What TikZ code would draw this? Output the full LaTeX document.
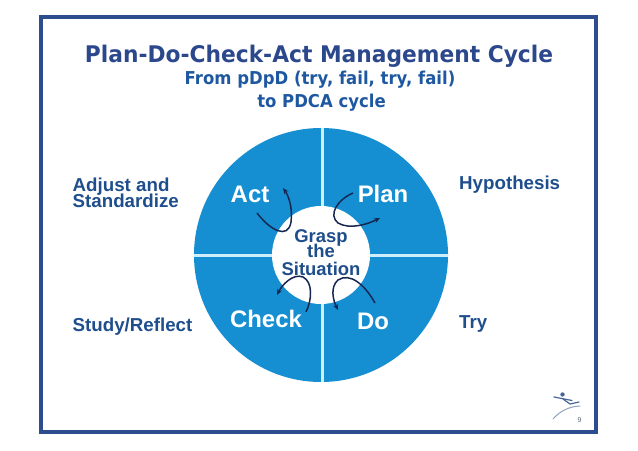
\documentclass[tikz,border=0pt]{standalone}
\usepackage{fontspec}
\setmainfont{Liberation Sans}
\newfontfamily\titlefont[FakeStretch=0.95]{DejaVu Sans}
\newfontfamily\subfont[FakeStretch=0.93]{DejaVu Sans}
\usetikzlibrary{arrows.meta}
\definecolor{framec}{RGB}{46,77,142}
\definecolor{titlec}{RGB}{44,72,140}
\definecolor{subc}{RGB}{30,88,160}
\definecolor{labc}{RGB}{31,78,140}
\definecolor{wheel}{RGB}{21,143,209}
\definecolor{divc}{RGB}{205,238,250}
\definecolor{arrc}{RGB}{22,40,82}
\definecolor{logoc}{RGB}{70,100,150}
\definecolor{pagec}{RGB}{90,100,120}
\tikzset{
  titletext/.style={inner sep=0pt,anchor=base,text=titlec,font=\titlefont\bfseries\fontsize{23}{25}\selectfont},
  subtext/.style={inner sep=0pt,anchor=base,text=subc,font=\subfont\bfseries\fontsize{17.8}{20}\selectfont},
  sidetext/.style={inner sep=0pt,anchor=base west,text=labc,font=\bfseries\fontsize{18.8}{20}\selectfont},
  quadtext/.style={inner sep=0pt,anchor=base,text=white,font=\bfseries\fontsize{24}{26}\selectfont},
  coretext/.style={inner sep=0pt,anchor=base,text=labc,font=\bfseries\fontsize{18.5}{20}\selectfont},
  cyclearrow/.style={draw=arrc,line width=1.5bp,-{Stealth[length=6bp,width=5bp]}},
}
\begin{document}
\begin{tikzpicture}[x=1bp,y=-1bp]
\useasboundingbox (0,0) rectangle (638,451);
% frame
\draw[framec,line width=4.5bp] (41,17) rectangle (596,432);
% titles
\node[titletext] (title) at (319,63) {Plan-Do-Check-Act Management Cycle};
\node[subtext] (sub1) at (320,85) {From pDpD (try, fail, try, fail)};
\node[subtext] (sub2) at (321.5,108) {to PDCA cycle};
% wheel
\fill[wheel] (321,255) circle[radius=127bp];
\begin{scope}
\clip (321,255) circle[radius=127bp];
\draw[divc,line width=3bp] (322,120) -- (322,390);
\draw[divc,line width=3bp] (186,256) -- (456,256);
\end{scope}
\fill[white] (321,255) circle[radius=49bp];
% quadrant labels
\node[quadtext] (act) at (250,203) {Act};
\node[quadtext] (plan) at (383,203) {Plan};
\node[quadtext] (check) at (266,327) {Check};
\node[quadtext] (do) at (373,329.5) {Do};
% core
\node[coretext] (g1) at (321,242.5) {Grasp};
\node[coretext] (g2) at (321,258) {the};
\node[coretext] (g3) at (321,275.7) {Situation};
% side labels
\node[sidetext] (adj1) at (72.5,192) {Adjust and};
\node[sidetext] (adj2) at (72.5,207.5) {Standardize};
\node[sidetext] (study) at (72.5,331.5) {Study/Reflect};
\node[sidetext] (hyp) at (459,190) {Hypothesis};
\node[sidetext] (try) at (459,328.5) {Try};
% arrow end points
\coordinate (a1s) at (257,213); \coordinate (a1e) at (283,188);
\coordinate (a2s) at (353,193); \coordinate (a2e) at (380,218);
\coordinate (a3s) at (306,312); \coordinate (a3e) at (277,295);
\coordinate (a4s) at (375,303); \coordinate (a4e) at (338,310);
\draw[cyclearrow] (a1s) .. controls (270,230) and (288,240) .. (291,222) .. controls (293,207) and (288,195) .. (a1e);
\draw[cyclearrow] (a2s) .. controls (337,200) and (328,215) .. (338,223) .. controls (350,230) and (368,224) .. (a2e);
\draw[cyclearrow] (a3s) .. controls (312,300) and (313,282) .. (303,277) .. controls (293,273) and (282,285) .. (a3e);
\draw[cyclearrow] (a4s) .. controls (365,285) and (350,272) .. (338,280) .. controls (330,287) and (333,300) .. (a4e);
% logo
\fill[logoc] (562.5,394.5) circle[radius=2.2bp];
\draw[logoc,line width=1.2bp,line cap=round] (554,397) -- (572,400.5);
\draw[logoc,line width=1.2bp,line cap=round] (563,399) -- (570,404) -- (579,402);
\draw[logoc!60,line width=1bp,line cap=round] (553,419) .. controls (560,411) and (569,406.5) .. (580,406);
\node[inner sep=0pt,anchor=base,text=pagec,font=\fontsize{7}{8}\selectfont] (page) at (579.5,422) {9};
\end{tikzpicture}
\end{document}
